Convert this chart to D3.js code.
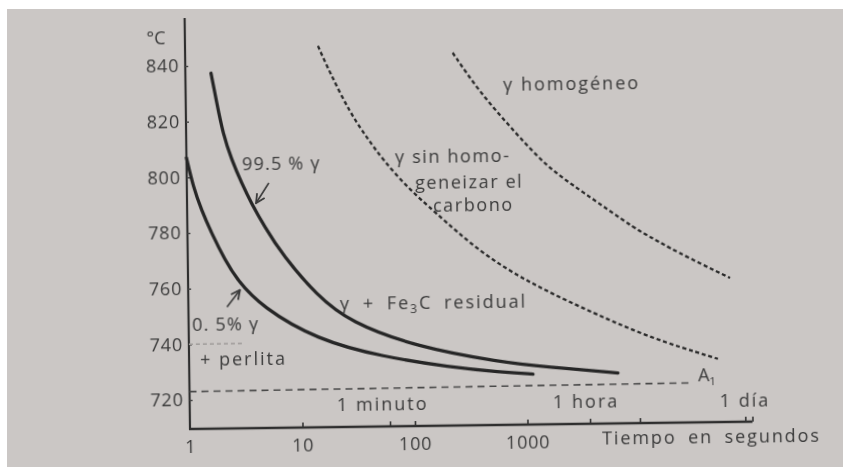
<!DOCTYPE html>
<html>
<head>
<meta charset="utf-8">
<script src="https://cdn.jsdelivr.net/npm/d3@7"></script>
<style>
  body { margin: 0; background: #fff; }
  svg { display: block; }
  .lbl { font-family: "Open Sans", sans-serif; font-size: 18px; fill: #3a3a3a; }
</style>
</head>
<body>
<script>
// time (s) vs temperature (°C)
const tempTicks = [720, 740, 760, 780, 800, 820, 840];
const timeLabels = [1, 10, 100, 1000];
const timeTicks = [10, 60, 100, 1000, 3600, 10000, 86400, 100000];

const curvePearlite = [
  [1.0, 807], [1.14, 796.6], [1.34, 788.2], [1.64, 779.8],
  [2.14, 770.1], [2.77, 762.6], [4.46, 753.2], [13.8, 741], [53, 734.6],
  [208, 730.6], [578, 728.6], [1135, 727.7]
];
const curveAustenite = [
  [1.69, 837.3], [1.89, 826.5], [2.12, 815.7], [2.52, 806.1], [3.08, 797.6],
  [3.73, 790.4], [4.86, 781.9], [7.0, 771.5], [13.9, 757], [27.2, 747.2],
  [106, 738], [580, 732.2], [1515, 730.2], [6460, 727.7]
];
const curveCarbon = [
  [15.2, 846.6], [19.3, 836.9], [28.8, 822.4], [40, 813.7], [55.8, 805.3],
  [96, 794.4], [153, 787.1], [398, 771.5], [1095, 760.4], [3030, 751.6],
  [11800, 740.5], [50200, 732.3]
];
const curveHomog = [
  [239, 843.5], [414, 829], [805, 815.5], [1590, 802], [3120, 793.6],
  [10500, 778.2], [13700, 776], [20500, 771.6], [65700, 761.3]
];
const lineA1 = [[1, 723], [30000, 723.8]];
const faint740 = [[1, 740], [3, 740]];

const W = 843, H = 467;
const svg = d3.select("body").append("svg").attr("width", W).attr("height", H);

svg.append("rect").attr("x", 7).attr("y", 9).attr("width", W - 7).attr("height", H - 9)
  .attr("fill", "#cbc7c5");

const defs = svg.append("defs");
defs.append("filter").attr("id", "soft")
  .append("feGaussianBlur").attr("stdDeviation", 0.45);
defs.append("marker").attr("id", "head")
  .attr("viewBox", "0 0 10 10").attr("refX", 9).attr("refY", 5)
  .attr("markerWidth", 7).attr("markerHeight", 7).attr("orient", "auto")
  .append("path").attr("d", "M1,1 L9,5 L1,9")
  .attr("fill", "none").attr("stroke", "#3a3a3a").attr("stroke-width", 1.6);

// the photographed page is tilted a little
const root = svg.append("g")
  .attr("transform", "rotate(-0.75,190,429)")
  .attr("filter", "url(#soft)");

const x = d3.scaleLog().domain([1, 1e5]).range([190, 752.5]);
const y = d3.scaleLinear().domain([720, 840]).range([400, 66]);

// axes
root.append("line").attr("x1", 190).attr("x2", 190)
  .attr("y1", 18).attr("y2", 429.5)
  .attr("stroke", "#2e2e2e").attr("stroke-width", 2.2);
root.append("line").attr("x1", 189).attr("x2", x(1e5))
  .attr("y1", 429).attr("y2", 429)
  .attr("stroke", "#2e2e2e").attr("stroke-width", 2.4);

const yAxis = root.append("g").attr("transform", "translate(190,0)")
  .call(d3.axisLeft(y).tickValues(tempTicks).tickSize(-3).tickPadding(6).tickSizeOuter(0));
yAxis.select(".domain").remove();
yAxis.selectAll("line").attr("stroke", "#444").attr("stroke-width", 1.4);
yAxis.selectAll("text").attr("class", "lbl").attr("font-size", null).attr("font-family", null)
  .style("letter-spacing", "0.8px");

const xTicks = root.append("g").attr("transform", "translate(0,429)")
  .call(d3.axisBottom(x).tickValues(timeTicks).tickSize(-5).tickFormat(""));
xTicks.select(".domain").remove();
xTicks.selectAll("line").attr("stroke", "#333").attr("stroke-width", 1.6);

const xLabels = root.append("g").attr("transform", "translate(0,429)")
  .call(d3.axisBottom(x).tickValues(timeLabels).tickSize(0).tickPadding(11)
    .tickFormat(d3.format("d")));
xLabels.select(".domain").remove();
xLabels.selectAll("text").attr("class", "lbl").attr("font-size", null).attr("font-family", null)
  .style("letter-spacing", "0.8px");

// curves
const line = d3.line().x(d => x(d[0])).y(d => y(d[1])).curve(d3.curveBasis);

root.append("path").datum(faint740).attr("d", line)
  .attr("fill", "none").attr("stroke", "#9d9a98").attr("stroke-width", 1.5)
  .attr("stroke-dasharray", "4,3");
root.append("path").datum(lineA1).attr("d", line)
  .attr("fill", "none").attr("stroke", "#4a4a4a").attr("stroke-width", 1.6)
  .attr("stroke-dasharray", "7,5");

[curvePearlite, curveAustenite].forEach(c => {
  root.append("path").datum(c).attr("d", line)
    .attr("fill", "none").attr("stroke", "#272727").attr("stroke-width", 3.3)
    .attr("stroke-linecap", "round");
});
[curveCarbon, curveHomog].forEach(c => {
  root.append("path").datum(c).attr("d", line)
    .attr("fill", "none").attr("stroke", "#2a2a2a").attr("stroke-width", 2.3)
    .attr("stroke-dasharray", "4,2.8");
});

// arrows
root.append("line").attr("x1", 272).attr("y1", 184).attr("x2", 259).attr("y2", 204)
  .attr("stroke", "#3a3a3a").attr("stroke-width", 1.6).attr("marker-end", "url(#head)");
root.append("line").attr("x1", 228.6).attr("y1", 307.5).attr("x2", 241.8).attr("y2", 290.7)
  .attr("stroke", "#3a3a3a").attr("stroke-width", 1.6).attr("marker-end", "url(#head)");

// labels
const text = (tx, ty, s, opts = {}) => {
  const t = root.append("text").attr("class", "lbl").attr("x", tx).attr("y", ty)
    .style("letter-spacing", opts.ls || "2px");
  if (opts.ws) t.style("word-spacing", opts.ws);
  if (opts.anchor) t.attr("text-anchor", opts.anchor);
  return t.text(s);
};

text(161, 44, "°C", { anchor: "middle", ls: "0px" });
text(245.5, 170.5, "99.5 % γ", { ls: "1.2px" });
text(193.4, 331, "0. 5% γ", { ls: "1.2px" });
text(201, 366, "+ perlita");

const fe = text(341.6, 312, "γ + Fe", { ws: "5px" });
fe.append("tspan").attr("font-size", 12).attr("dy", 4).text("3");
fe.append("tspan").attr("dy", -4).text("C residual");

text(398.6, 166, "γ sin homo-", { ls: "1.6px" });
text(418.2, 192, "geneizar el", { ls: "1.6px" });
text(435.9, 215, "carbono", { ls: "1.6px" });
text(507.5, 95, "γ homogéneo");

const a1 = text(698.7, 388, "A", { ls: "0px" });
a1.append("tspan").attr("font-size", 11).attr("dy", 4).text("1");

text(337.3, 413, "1 minuto");
text(553.3, 413, "1 hora");
text(720, 414, "1 día");
text(602, 450, "Tiempo en segundos", { ls: "1.9px", ws: "5px" });
</script>
</body>
</html>
